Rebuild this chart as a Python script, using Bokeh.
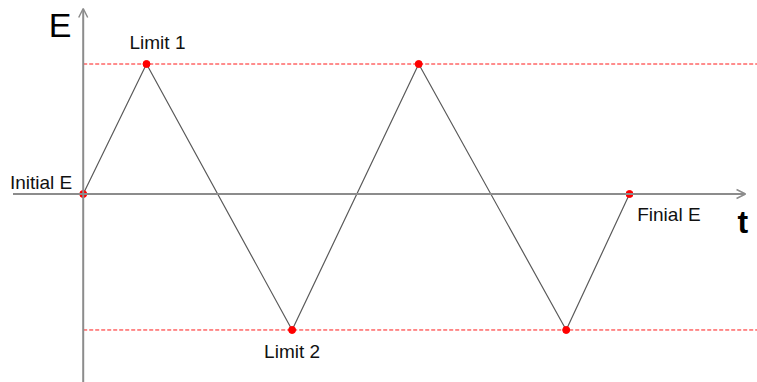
from bokeh.plotting import figure
from bokeh.models import Range1d, Arrow, OpenHead, Label
from bokeh.embed import file_html
from bokeh.resources import INLINE

# ---- data ----
t_vals = [0, 1, 3.3, 5.3, 7.63, 8.63]
e_vals = [0, 1, -1.046, 1, -1.046, 0]
limit1 = 1.0
limit2 = -1.046
point_labels = ["Initial E", "Limit 1", "Limit 2", "", "", "Finial E"]
axis_x_label = "t"
axis_y_label = "E"

W, H = 757, 382
x0, x1 = -1.3065, 10.652
y0, y1 = -1.45, 1.4885
x_tip = 10.463   # end of the t axis arrow
y_tip = 1.427    # end of the E axis arrow
x_tail = -1.109

p = figure(width=W, height=H, x_range=Range1d(x0, x1), y_range=Range1d(y0, y1),
           output_backend="svg", toolbar_location=None, min_border=0)
p.axis.visible = False
p.grid.visible = False
p.outline_line_color = None
p.background_fill_color = "white"
p.border_fill_color = "white"

axis_col = "#8c8c8c"
p.add_layout(Arrow(end=OpenHead(size=9, line_color=axis_col, line_width=1.5),
                   x_start=x_tail, y_start=0, x_end=x_tip, y_end=0,
                   line_color=axis_col, line_width=2))
p.add_layout(Arrow(end=OpenHead(size=9, line_color=axis_col, line_width=1.5),
                   x_start=0, y_start=y0 - 0.1, x_end=0, y_end=y_tip,
                   line_color=axis_col, line_width=2))

for lv in (limit1, limit2):
    p.segment(x0=[0], y0=[lv], x1=[x1 + 0.5], y1=[lv], line_color="#ff1a1a",
              line_width=1, line_dash="4 2")

p.line(t_vals, e_vals, line_color="#5a5a5a", line_width=1.2)
p.scatter(t_vals, e_vals, size=7, fill_color="#ff0000", line_color="#ff0000")

font = "Liberation Sans"
offsets = {0: (-11, 11.5, "right"), 1: (-17, 21.5, "left"), 2: (0, -21.5, "center"),
           5: (7.7, -20, "left")}
for i, txt in enumerate(point_labels):
    if not txt:
        continue
    dx, dy, al = offsets[i]
    p.add_layout(Label(x=t_vals[i], y=e_vals[i], text=txt, x_offset=dx, y_offset=dy,
                       text_align=al, text_baseline="alphabetic", text_font=font,
                       text_font_size="19px", text_color="#111111"))

p.add_layout(Label(x=0, y=y_tip, text=axis_y_label, x_offset=-34.4, y_offset=-16.5,
                   text_align="left", text_baseline="alphabetic", text_font=font,
                   text_font_size="34px", text_color="black"))
p.add_layout(Label(x=x_tip, y=0, text=axis_x_label, x_offset=-8, y_offset=-27.5,
                   text_align="left", text_baseline="alphabetic", text_font=font,
                   text_font_size="32px", text_font_style="bold", text_color="black"))

open("out.html", "w").write(file_html(p, INLINE))
